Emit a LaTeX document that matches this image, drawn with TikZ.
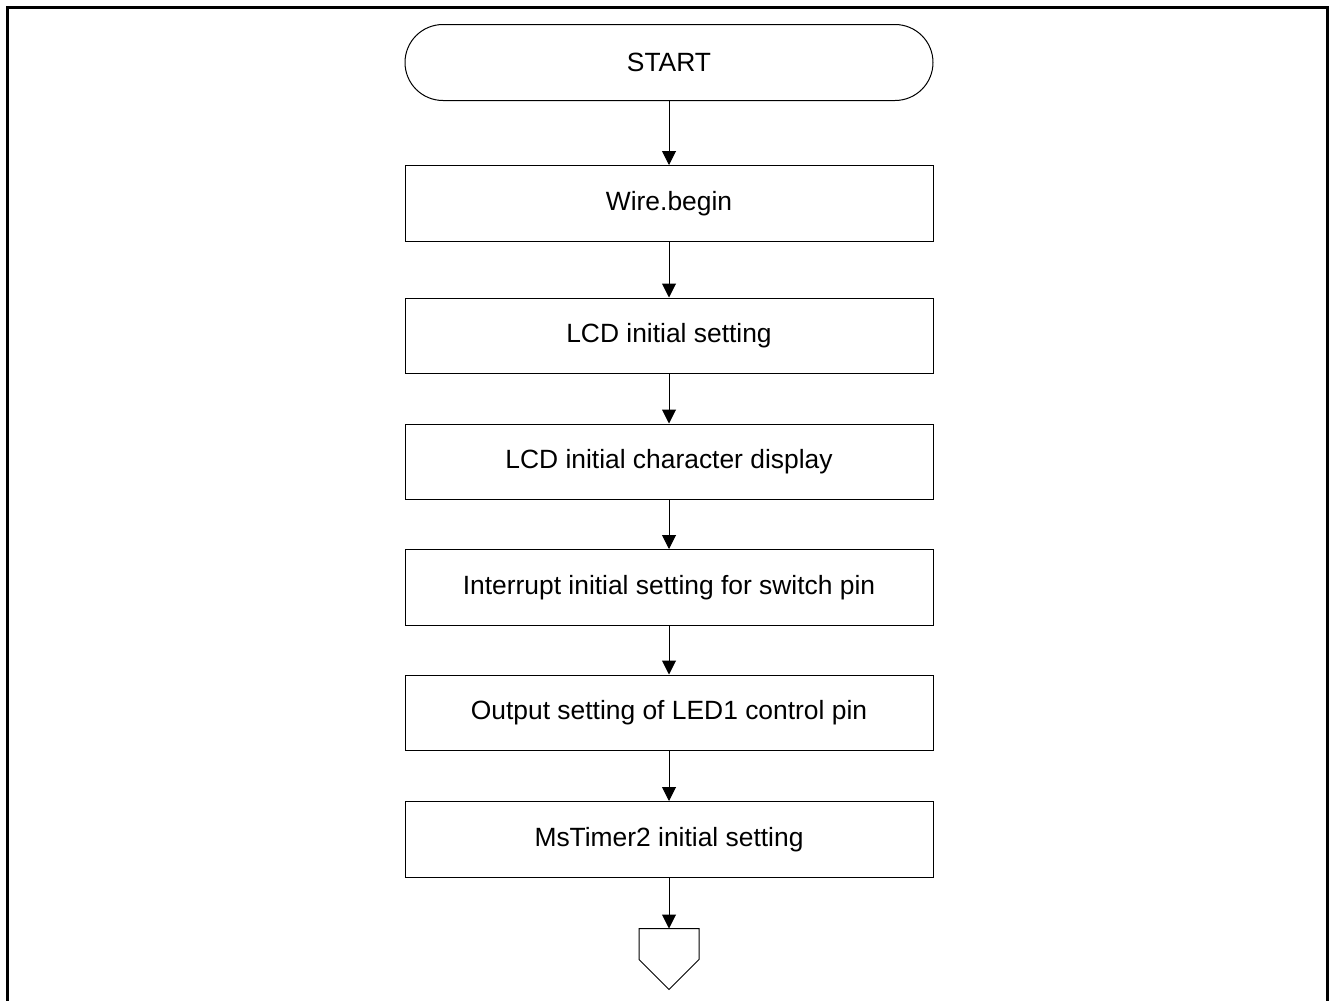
\documentclass[tikz,border=0pt]{standalone}
\usepackage{fontspec}
\setmainfont{Liberation Sans}
\usepackage{tikz}
\usetikzlibrary{arrows.meta,positioning}
\tikzset{
  procbox/.style={draw=black,line width=0.5pt,minimum width=264pt,minimum height=37.75pt,inner sep=0pt,align=center},
  termbox/.style={procbox,rounded corners=19pt,minimum height=38pt},
  flow/.style={-{Triangle[length=7pt,width=7pt]},line width=0.5pt,draw=black},
  frameline/.style={line width=1.5pt,draw=black}
}

\begin{document}
\begin{tikzpicture}[font=\fontsize{13.2}{16}\selectfont]
  \useasboundingbox (0,0) rectangle (665pt,-500.5pt);
  \draw[frameline] (3.5pt,-503pt) -- (3.5pt,-3.5pt) -- (663.5pt,-3.5pt) -- (663.5pt,-503pt);
  \node[termbox] (start) at (334.5pt,-31.25pt) {START};
  \node[procbox,below=32pt of start] (wire) {Wire.begin};
  \node[procbox,below=28pt of wire] (lcdinit) {LCD initial setting};
  \node[procbox,below=24.75pt of lcdinit] (lcdchar) {LCD initial character display};
  \node[procbox,below=24.5pt of lcdchar] (intr) {Interrupt initial setting for switch pin};
  \node[procbox,below=24.5pt of intr] (ledout) {Output setting of LED1 control pin};
  \node[procbox,below=25pt of ledout] (timer) {MsTimer2 initial setting};
  \coordinate[below=25.5pt of timer] (offpage);
  % off-page connector
  \draw[line width=0.5pt] (offpage) -- ++(-15pt,0) -- ++(0,-15.5pt) -- ++(15pt,-15pt) -- ++(15pt,15pt) -- ++(0,15.5pt) -- cycle;
  \draw[flow] (start) -- (wire);
  \draw[flow] (wire) -- (lcdinit);
  \draw[flow] (lcdinit) -- (lcdchar);
  \draw[flow] (lcdchar) -- (intr);
  \draw[flow] (intr) -- (ledout);
  \draw[flow] (ledout) -- (timer);
  \draw[flow] (timer) -- (offpage);
\end{tikzpicture}
\end{document}
